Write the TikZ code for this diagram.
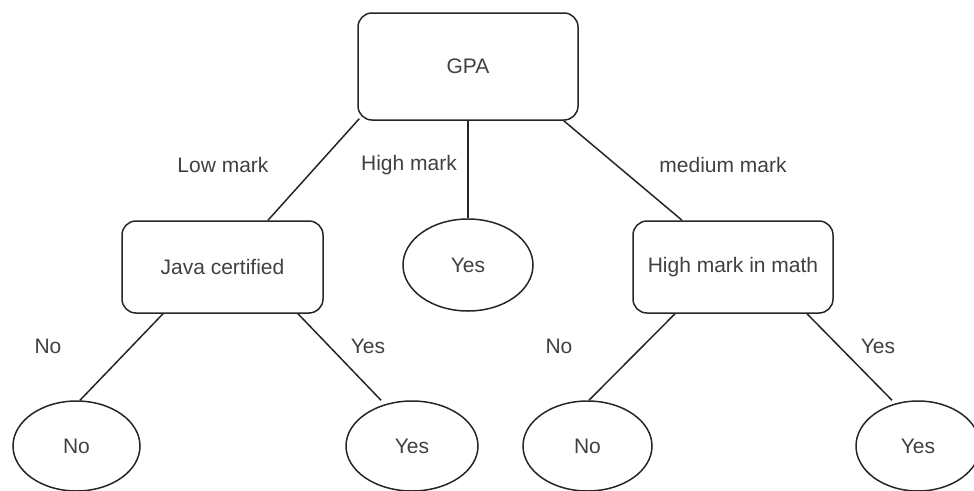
\documentclass[tikz,border=0pt]{standalone}
\usepackage{fontspec}
\setmainfont{Liberation Sans}
\usetikzlibrary{shapes.geometric}
\begin{document}
\begin{tikzpicture}[x=1pt,y=-1pt,
  every node/.style={text=black!75, font=\fontsize{21}{24}\selectfont, inner sep=0pt},
  box/.style={draw=black!85, line width=1.5pt, rounded corners=14pt, rectangle},
  oval/.style={draw=black!85, line width=1.5pt, ellipse},
  link/.style={draw=black!85, line width=1.5pt},
  lbl/.style={}]
\useasboundingbox (0,0) rectangle (974,490);
\node[box, minimum width=220pt, minimum height=107pt] (gpa) at (468,66.5) {GPA};
\node[box, minimum width=201pt, minimum height=92pt] (java) at (222.5,267) {Java certified};
\node[oval, minimum width=130pt, minimum height=92pt] (yesm) at (468,265) {Yes};
\node[box, minimum width=200pt, minimum height=92pt] (hmm) at (733,267) {High mark in math};
\node[oval, minimum width=127pt, minimum height=90pt] (nol) at (76.5,446) {No};
\node[oval, minimum width=132pt, minimum height=90pt] (yesl) at (412,446) {Yes};
\node[oval, minimum width=129pt, minimum height=90pt] (nor) at (587.5,446) {No};
\node[oval, minimum width=124pt, minimum height=90pt] (yesr) at (918,446) {Yes};

\draw[link] ([shift={(2,-2)}]gpa.south west) -- ([xshift=45.5pt]java.north);
\draw[link] (gpa.south) -- (yesm.north);
\draw[link] ([xshift=-15pt]gpa.south east) -- ([xshift=-51pt]hmm.north);
\draw[link] ([xshift=-59.5pt]java.south) -- ([xshift=3.5pt]nol.north);
\draw[link] ([xshift=75.5pt]java.south) -- ([xshift=-31pt]yesl.north);
\draw[link] ([xshift=-58pt]hmm.south) -- ([xshift=1.5pt]nor.north);
\draw[link] ([xshift=74pt]hmm.south) -- ([xshift=-26pt]yesr.north);

\node[lbl] (l1) at (223,165) {Low mark};
\node[lbl] (l2) at (409,165) {High mark};
\node[lbl] (l3) at (723,165) {medium mark};
\node[lbl] (l4) at (48,346) {No};
\node[lbl] (l5) at (368,346) {Yes};
\node[lbl] (l6) at (559,346) {No};
\node[lbl] (l7) at (878,346) {Yes};
\end{tikzpicture}
\end{document}
